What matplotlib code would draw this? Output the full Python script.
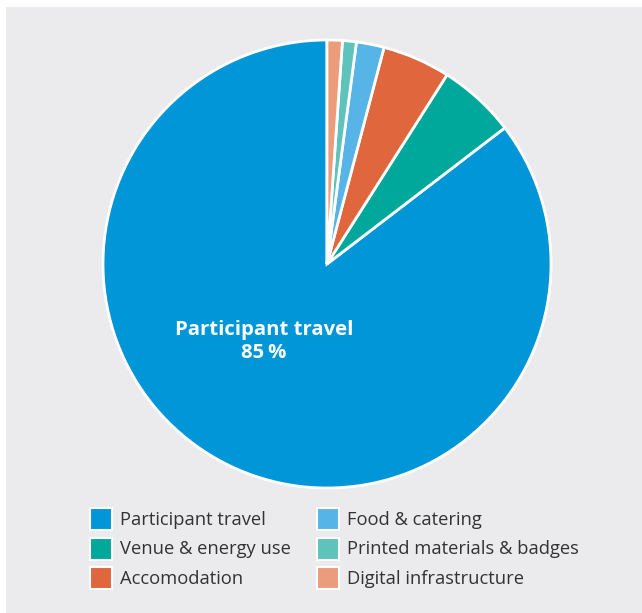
import matplotlib
matplotlib.use("Agg")
import matplotlib.pyplot as plt
from matplotlib.patches import Rectangle

categories = ["Participant travel", "Venue & energy use", "Accomodation",
              "Food & catering", "Printed materials & badges", "Digital infrastructure"]
values = [85.4, 5.6, 4.9, 2.0, 1.0, 1.1]
colors = ["#0096d7", "#00a89c", "#df663d", "#57b4e6", "#5ec4bb", "#eb9c7d"]
main_label = "Participant travel\n85\u2009%"

W, H = 642, 613
fig = plt.figure(figsize=(W / 100, H / 100), dpi=100)
fig.patch.set_facecolor("white")
bg = fig.add_axes([6 / W, 0, 1 - 6 / W, 1 - 7 / H], zorder=-5)
bg.set_facecolor("#ebebed")
bg.set_xticks([]); bg.set_yticks([])
for s in bg.spines.values():
    s.set_visible(False)

cx, cy, r = 327, 264, 224
ax = fig.add_axes([(cx - r) / W, (H - cy - r) / H, 2 * r / W, 2 * r / H], zorder=1)
ax.set_facecolor("none")
wedges, _ = ax.pie(values, colors=colors, startangle=90, counterclock=True, radius=1,
                   wedgeprops=dict(edgecolor="white", linewidth=2))
for w in wedges:
    w.set_clip_on(False)
ax.set_xlim(-1, 1)
ax.set_ylim(-1, 1)
ax.set_aspect("equal")
ax.axis("off")

ax.text((264 - cx) / r, -(342 - cy) / r, main_label, ha="center", va="center",
        color="white", fontsize=14.6, fontweight="bold", family=["Open Sans", "DejaVu Sans"],
        linespacing=1.2)

# legend (manual, pixel-placed)
lg = fig.add_axes([0, 0, 1, 1], zorder=2)
lg.set_xlim(0, W); lg.set_ylim(H, 0)
lg.axis("off")
col_x = [90, 317]
row_y = [519, 548.5, 578]
sq = 22
for i, (lab, c) in enumerate(zip(categories, colors)):
    col, row = divmod(i, 3)
    x, y = col_x[col], row_y[row]
    lg.add_patch(Rectangle((x, y - sq / 2), sq, sq, facecolor=c, edgecolor="white", linewidth=1.5))
    lg.text(x + sq + 8, y + 1, lab, ha="left", va="center", color="#333333",
            fontsize=13.2, family=["Open Sans", "DejaVu Sans"])

fig.savefig("out.png", dpi=100, facecolor=fig.get_facecolor())
